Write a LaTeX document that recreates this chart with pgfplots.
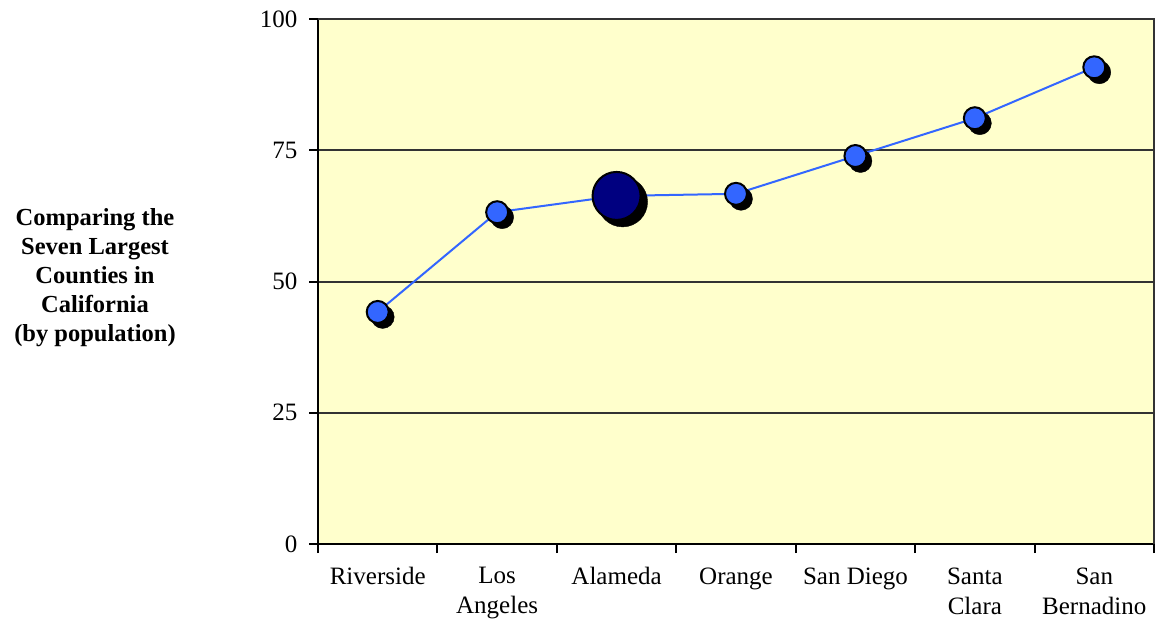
\documentclass[border=0pt]{standalone}
\usepackage{fontspec}
\setmainfont{Liberation Serif}
\usepackage{pgfplots}
\pgfplotsset{compat=1.18}
\definecolor{plotbg}{HTML}{FFFFCC}
\definecolor{ptblue}{HTML}{3366FF}
\definecolor{navyfill}{HTML}{000080}
\definecolor{gridgray}{HTML}{333333}

\begin{document}
\begin{tikzpicture}
\path[use as bounding box] (0,0) rectangle (1159pt,625pt);
\node[align=center, font=\fontsize{24.5}{29}\selectfont\bfseries] at (95pt,347pt)
  {Comparing the\\Seven Largest\\Counties in\\California\\(by population)};
\begin{axis}[
  at={(318pt,81pt)}, anchor=south west,
  scale only axis, width=836pt, height=525pt,
  xmin=-0.5, xmax=6.5, ymin=0, ymax=100,
  axis background/.style={fill=plotbg},
  axis x line*=bottom, axis y line*=left,
  axis line style={black, line width=2pt, -},
  ytick={0,25,50,75,100},
  ymajorgrids, grid style={gridgray, line width=2pt},
  xtick={-0.5,0.5,...,6.5},
  x tick label as interval,
  xticklabels={Riverside, Los\\Angeles, Alameda, Orange, San Diego, Santa\\Clara, San\\Bernadino},
  tick style={black, line width=2pt},
  major tick length=9pt,
  tick align=outside,
  ticklabel style={font=\fontsize{25}{30}\selectfont},
  x tick label style={align=center, anchor=north, yshift=-11pt},
  y tick label style={xshift=-8pt},
  /pgf/number format/assume math mode=true,
  clip=false,
]
% drop shadows behind the markers
\addplot[only marks, mark=*, mark size=11.5pt, black, mark options={xshift=5pt, yshift=-5pt}]
  coordinates {(0,44.2) (1,63.2) (3,66.7) (4,73.9) (5,81.1) (6,90.8)};
\addplot[only marks, mark=*, mark size=25pt, black, mark options={xshift=6pt, yshift=-6pt}]
  coordinates {(2,66.3)};
% connecting line
\addplot[ptblue, line width=2pt, no marks]
  coordinates {(0,44.2) (1,63.2) (2,66.3) (3,66.7) (4,73.9) (5,81.1) (6,90.8)};
% markers
\addplot[only marks, mark=*, mark size=11pt, mark options={fill=ptblue, draw=black, line width=2pt}]
  coordinates {(0,44.2) (1,63.2) (3,66.7) (4,73.9) (5,81.1) (6,90.8)};
\addplot[only marks, mark=*, mark size=24pt, mark options={fill=navyfill, draw=black, line width=2pt}]
  coordinates {(2,66.3)};
\draw[gridgray, line width=2pt] (rel axis cs:0,1) -- (rel axis cs:1,1) -- (rel axis cs:1,0);
\end{axis}
\end{tikzpicture}
\end{document}
